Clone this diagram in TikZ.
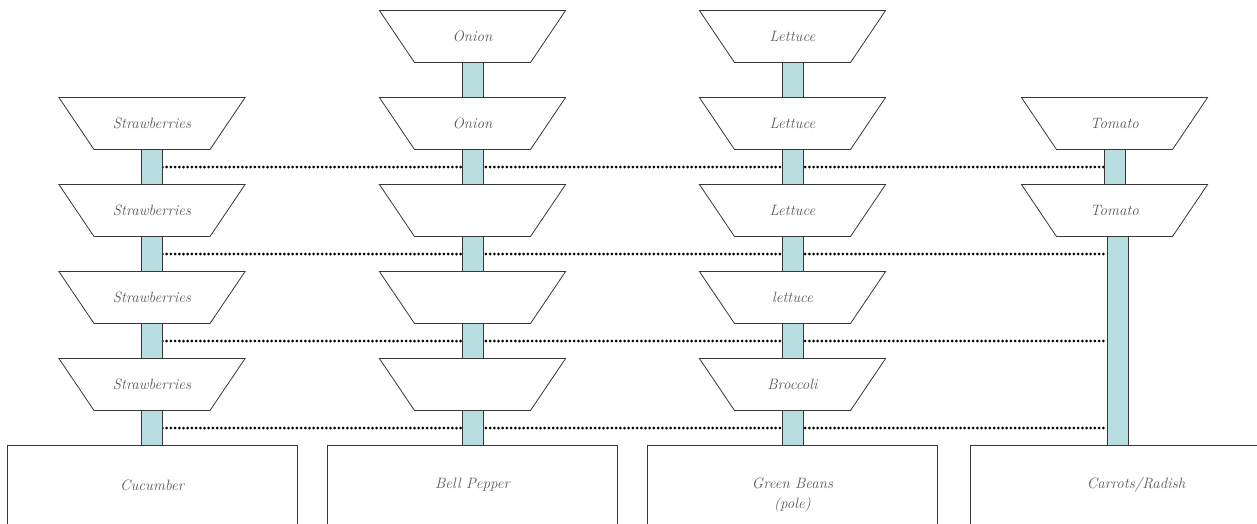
\documentclass[tikz,border=0pt]{standalone}
\usetikzlibrary{shapes.geometric, positioning, backgrounds}

\definecolor{polecol}{RGB}{184,222,225}
\definecolor{edgecol}{RGB}{55,55,55}
\definecolor{textcol}{RGB}{90,90,90}

\begin{document}
\begin{tikzpicture}[x=1pt, y=-1pt,
    pot/.style={trapezium, trapezium angle=56, shape border rotate=180,
      text width=116pt, align=center, text height=30.5pt, text depth=21.5pt,
      inner sep=0pt, outer sep=0pt,
      draw=edgecol, line width=0.8pt, fill=white, text=textcol, font=\itshape\fontsize{15}{17}\selectfont},
    bed/.style={rectangle, draw=edgecol, line width=0.8pt, minimum width=290pt, minimum height=79pt,
      align=center, text=textcol, font=\itshape\fontsize{15}{20}\selectfont},
    pole/.style={rectangle, draw=edgecol, line width=0.8pt, fill=polecol, minimum width=21pt,
      minimum height=35pt, inner sep=0pt, outer sep=0pt},
    tie/.style={line width=3pt, line cap=round, dash pattern=on 0pt off 4.2pt}]
  \useasboundingbox (0,0) rectangle (1257,523);

  % raised beds
  \node [bed] (cucumber) at (152,485) {Cucumber};
  \node [bed] (pepper) at (472.5,485) {Bell Pepper};
  \node [bed, minimum height=99pt] (beans) at (792.5,495) {Green Beans\\(pole)};
  \node [bed, minimum width=332pt] (carrots) at (1136,485) {Carrots/Radish};

  % strawberry tower
  \node [pot] (s2) at (152,123.5) {Strawberries};
  \node [pot] (s3) at (152,210.5) {Strawberries};
  \node [pot] (s4) at (152,297.5) {Strawberries};
  \node [pot] (s5) at (152,384.5) {Strawberries};
  \node [pole, below=0pt of s2] (s2p) {};
  \node [pole, below=0pt of s3] (s3p) {};
  \node [pole, below=0pt of s4] (s4p) {};
  \node [pole, below=0pt of s5] (s5p) {};

  % onion tower
  \node [pot] (o1) at (472.5,36.5) {Onion};
  \node [pot] (o2) at (472.5,123.5) {Onion};
  \node [pot] (o3) at (472.5,210.5) {};
  \node [pot] (o4) at (472.5,297.5) {};
  \node [pot] (o5) at (472.5,384.5) {};
  \node [pole, below=0pt of o1] (o1p) {};
  \node [pole, below=0pt of o2] (o2p) {};
  \node [pole, below=0pt of o3] (o3p) {};
  \node [pole, below=0pt of o4] (o4p) {};
  \node [pole, below=0pt of o5] (o5p) {};

  % lettuce tower
  \node [pot] (l1) at (792.5,36.5) {Lettuce};
  \node [pot] (l2) at (792.5,123.5) {Lettuce};
  \node [pot] (l3) at (792.5,210.5) {Lettuce};
  \node [pot] (l4) at (792.5,297.5) {lettuce};
  \node [pot] (l5) at (792.5,384.5) {Broccoli};
  \node [pole, below=0pt of l1] (l1p) {};
  \node [pole, below=0pt of l2] (l2p) {};
  \node [pole, below=0pt of l3] (l3p) {};
  \node [pole, below=0pt of l4] (l4p) {};
  \node [pole, below=0pt of l5] (l5p) {};

  % tomato tower
  \node [pot] (t2) at (1114.5,123.5) {Tomato};
  \node [pot] (t3) at (1114.5,210.5) {Tomato};
  \node [pole, below=0pt of t2] (t2p) {};
  \node [pole, minimum height=209pt, below=0pt of t3, xshift=3pt] (t3p) {};

  % wires between the towers
  \begin{pgfonlayer}{background}
    \draw [tie] (s2p.east) -- (t2p.west);
    \draw [tie] (s3p.east) -- (s3p.east -| t3p.west);
    \draw [tie] (s4p.east) -- (s4p.east -| t3p.west);
    \draw [tie] (s5p.east) -- (s5p.east -| t3p.west);
  \end{pgfonlayer}
\end{tikzpicture}
\end{document}
